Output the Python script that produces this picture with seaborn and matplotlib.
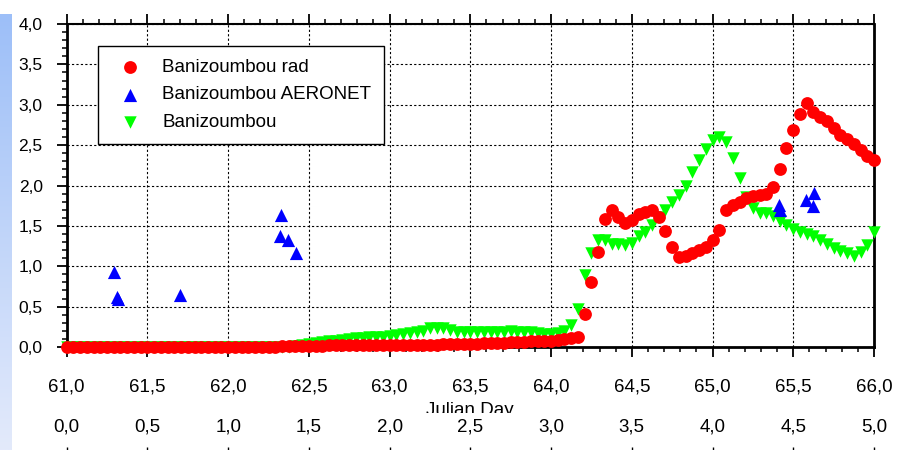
import numpy as np
import matplotlib
matplotlib.use("Agg")
import matplotlib.pyplot as plt
import seaborn as sns
from matplotlib.ticker import MultipleLocator
from matplotlib.patches import Rectangle
from matplotlib.colors import LinearSegmentedColormap

# ---------------- data ----------------
days = [
    61.000, 61.042, 61.083, 61.125, 61.167, 61.208, 61.250, 61.292, 61.333, 61.375, 61.417, 61.458,
    61.500, 61.542, 61.583, 61.625, 61.667, 61.708, 61.750, 61.792, 61.833, 61.875, 61.917, 61.958,
    62.000, 62.042, 62.083, 62.125, 62.167, 62.208, 62.250, 62.292, 62.333, 62.375, 62.417, 62.458,
    62.500, 62.542, 62.583, 62.625, 62.667, 62.708, 62.750, 62.792, 62.833, 62.875, 62.917, 62.958,
    63.000, 63.042, 63.083, 63.125, 63.167, 63.208, 63.250, 63.292, 63.333, 63.375, 63.417, 63.458,
    63.500, 63.542, 63.583, 63.625, 63.667, 63.708, 63.750, 63.792, 63.833, 63.875, 63.917, 63.958,
    64.000, 64.042, 64.083, 64.125, 64.167, 64.208, 64.250, 64.292, 64.333, 64.375, 64.417, 64.458,
    64.500, 64.542, 64.583, 64.625, 64.667, 64.708, 64.750, 64.792, 64.833, 64.875, 64.917, 64.958,
    65.000, 65.042, 65.083, 65.125, 65.167, 65.208, 65.250, 65.292, 65.333, 65.375, 65.417, 65.458,
    65.500, 65.542, 65.583, 65.625, 65.667, 65.708, 65.750, 65.792, 65.833, 65.875, 65.917, 65.958,
    66.000,
]

rad_aod = [
    0.00, 0.00, 0.00, 0.00, 0.00, 0.00, 0.00, 0.00, 0.00, 0.00, 0.00, 0.00,
    0.00, 0.00, 0.00, 0.00, 0.00, 0.00, 0.00, 0.00, 0.00, 0.00, 0.00, 0.00,
    0.00, 0.00, 0.00, 0.00, 0.00, 0.00, 0.00, 0.00, 0.01, 0.01, 0.01, 0.01,
    0.01, 0.01, 0.01, 0.02, 0.02, 0.02, 0.02, 0.02, 0.02, 0.02, 0.02, 0.02,
    0.02, 0.02, 0.03, 0.03, 0.03, 0.03, 0.03, 0.03, 0.04, 0.04, 0.04, 0.04,
    0.04, 0.04, 0.05, 0.05, 0.05, 0.05, 0.06, 0.06, 0.06, 0.07, 0.07, 0.08,
    0.08, 0.09, 0.10, 0.11, 0.13, 0.41, 0.81, 1.18, 1.58, 1.70, 1.61, 1.54,
    1.57, 1.65, 1.67, 1.70, 1.61, 1.44, 1.24, 1.12, 1.13, 1.17, 1.20, 1.24,
    1.32, 1.45, 1.70, 1.76, 1.80, 1.84, 1.87, 1.88, 1.89, 1.98, 2.20, 2.46,
    2.69, 2.88, 3.02, 2.91, 2.85, 2.80, 2.71, 2.62, 2.58, 2.52, 2.44, 2.36,
    2.32,
]

model_aod = [
    0.00, 0.00, 0.00, 0.00, 0.00, 0.00, 0.00, 0.00, 0.00, 0.00, 0.00, 0.00,
    0.00, 0.00, 0.00, 0.00, 0.00, 0.00, 0.00, 0.00, 0.00, 0.00, 0.00, 0.00,
    0.00, 0.00, 0.00, 0.00, 0.00, 0.00, 0.00, 0.00, 0.00, 0.00, 0.01, 0.02,
    0.04, 0.05, 0.06, 0.07, 0.08, 0.09, 0.10, 0.11, 0.11, 0.12, 0.13, 0.13,
    0.14, 0.15, 0.16, 0.17, 0.18, 0.20, 0.23, 0.24, 0.23, 0.21, 0.19, 0.18,
    0.18, 0.19, 0.19, 0.18, 0.19, 0.19, 0.20, 0.19, 0.19, 0.18, 0.17, 0.16,
    0.16, 0.17, 0.20, 0.27, 0.47, 0.89, 1.16, 1.32, 1.32, 1.28, 1.28, 1.26,
    1.29, 1.37, 1.43, 1.51, 1.61, 1.70, 1.80, 1.88, 2.00, 2.17, 2.31, 2.45,
    2.56, 2.60, 2.54, 2.34, 2.09, 1.86, 1.72, 1.66, 1.66, 1.62, 1.56, 1.51,
    1.46, 1.43, 1.40, 1.37, 1.32, 1.27, 1.22, 1.19, 1.16, 1.13, 1.18, 1.26,
    1.43,
]

aeronet_days = [61.29, 61.31, 61.32, 61.70, 62.32, 62.33, 62.37, 62.42,
                65.41, 65.42, 65.58, 65.62, 65.63]
aeronet_aod = [0.93, 0.62, 0.60, 0.64, 1.37, 1.63, 1.32, 1.17,
               1.76, 1.70, 1.82, 1.74, 1.91]

series_names = ["Banizoumbou rad", "Banizoumbou AERONET", "Banizoumbou"]

x_ticks = [61.0, 61.5, 62.0, 62.5, 63.0, 63.5, 64.0, 64.5, 65.0, 65.5, 66.0]
x_tick_labels = ["61,0", "61,5", "62,0", "62,5", "63,0", "63,5",
                 "64,0", "64,5", "65,0", "65,5", "66,0"]
y_ticks = [0.0, 0.5, 1.0, 1.5, 2.0, 2.5, 3.0, 3.5, 4.0]
y_tick_labels = ["0,0", "0,5", "1,0", "1,5", "2,0", "2,5", "3,0", "3,5", "4,0"]
sec_ticks = [0.0, 0.5, 1.0, 1.5, 2.0, 2.5, 3.0, 3.5, 4.0, 4.5, 5.0]
sec_tick_labels = ["0,0", "0,5", "1,0", "1,5", "2,0", "2,5",
                   "3,0", "3,5", "4,0", "4,5", "5,0"]
x_label = "Julian Day"

# ---------------- style ----------------
sns.set_theme(style="white")
plt.rcParams["font.family"] = ["Liberation Sans", "DejaVu Sans"]
plt.rcParams["text.color"] = "black"

W, H = 910, 450
PT = 72 / 100  # points per pixel at 100 dpi
fig = plt.figure(figsize=(W / 100, H / 100), dpi=100, facecolor="white")


def px(l, t, r, b):
    return [l / W, 1 - b / H, (r - l) / W, (b - t) / H]


# left decorative strip
strip = fig.add_axes(px(0, 14, 12, 450))
grad = np.linspace(0, 1, 200).reshape(-1, 1)
cmap = LinearSegmentedColormap.from_list("strip", ["#9dbff8", "#e3eafb"])
strip.imshow(grad, aspect="auto", cmap=cmap)
strip.axis("off")

# main axes
ax = fig.add_axes(px(66.7, 24, 874, 347))
ax.set_facecolor("white")

sns.scatterplot(x=days, y=model_aod, ax=ax, marker="v", color="#00ff00",
                s=80, linewidth=0, label=series_names[2], zorder=3,
                clip_on=False, legend=False)
sns.scatterplot(x=days, y=rad_aod, ax=ax, marker="o", color="#ff0000",
                s=85, linewidth=0, label=series_names[0], zorder=4,
                clip_on=False, legend=False)
sns.scatterplot(x=aeronet_days, y=aeronet_aod, ax=ax, marker="^", color="#0000ff",
                s=90, linewidth=0, label=series_names[1], zorder=5,
                clip_on=False, legend=False)

ax.set_xlim(61, 66)
ax.set_ylim(0, 4)
ax.set_xticks(x_ticks, x_tick_labels)
ax.set_yticks(y_ticks, y_tick_labels)
ax.xaxis.set_minor_locator(MultipleLocator(0.1))
ax.yaxis.set_minor_locator(MultipleLocator(0.1))
ax.set_xlabel("")
ax.set_ylabel("")

ax.tick_params(which="major", direction="out", length=10 * PT, width=1.3, color="black",
               top=True, bottom=True, left=True, right=False,
               labeltop=False, labelcolor="black")
ax.tick_params(which="minor", direction="out", length=5 * PT, width=1.1, color="black",
               top=True, bottom=True, left=True, right=False)
ax.tick_params(axis="x", which="major", labelsize=13.5, pad=21 * PT)
ax.tick_params(axis="y", which="major", labelsize=12.5, pad=14 * PT)

ax.grid(True, which="major", color="black", linestyle=(0, (2, 2)), linewidth=0.8)
ax.grid(False, which="minor")
ax.set_axisbelow(True)

for name, sp in ax.spines.items():
    sp.set_visible(True)
    sp.set_color("black")
    sp.set_linewidth(1.5 if name == "top" else 2.0)

handles, labels = ax.get_legend_handles_labels()
order = [labels.index(n) for n in series_names]
leg = ax.legend([handles[i] for i in order], [labels[i] for i in order],
                loc="upper left", bbox_to_anchor=(0.0388, 0.932), borderaxespad=0,
                frameon=True, fancybox=False, edgecolor="black", facecolor="white",
                framealpha=1, fontsize=13.5, labelspacing=0.54, handletextpad=0.73,
                borderpad=0.7, handlelength=2.0)
leg.get_frame().set_linewidth(1.0)
leg.set_zorder(10)

# "Julian Day" label, partially hidden by the second axis
fig.text(470 / W, 1 - 402 / H, x_label, ha="center", va="top", fontsize=13.5,
         color="black", zorder=1)
fig.add_artist(Rectangle((380 / W, 0), 180 / W, 1 - 413 / H, transform=fig.transFigure,
                         facecolor="white", edgecolor="none", zorder=2))

# secondary day axis
sec = fig.add_axes(px(66.7, 436, 874, 447))
sec.set_zorder(5)
sec.patch.set_alpha(0)
sec.set_xlim(0, 5)
sec.set_xticks(sec_ticks, sec_tick_labels)
sec.set_yticks([])
sec.tick_params(axis="x", bottom=True, top=False, labelbottom=False, labeltop=True,
                direction="out", length=8, width=1, color="black", pad=-7.6,
                labelsize=13.5, labelcolor="black")
for sp in sec.spines.values():
    sp.set_visible(False)

fig.savefig("out.png", dpi=100, facecolor="white")
